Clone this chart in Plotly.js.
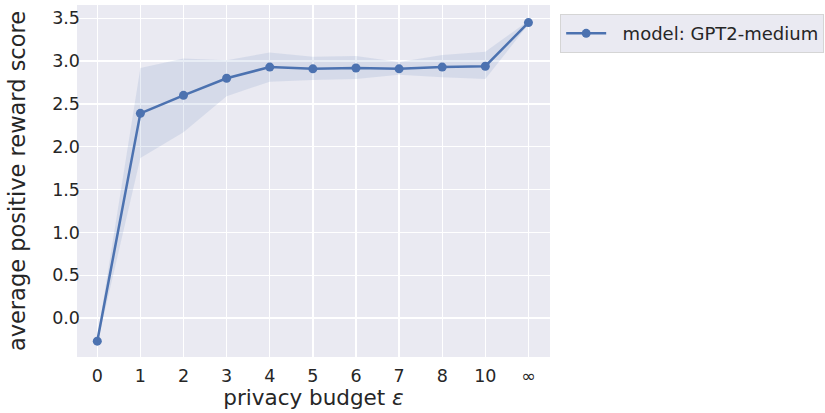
<!DOCTYPE html>
<html>
<head>
<meta charset="utf-8">
<script src="https://cdn.plot.ly/plotly-3.0.1.min.js"></script>
<style>html,body{margin:0;padding:0;background:#fff;}#chart{width:825px;height:413px;}</style>
</head>
<body>
<div id="chart"></div>
<script>
const categories = ["0","1","2","3","4","5","6","7","8","10","∞"];
const meanScore  = [-0.27, 2.39, 2.60, 2.80, 2.93, 2.91, 2.92, 2.91, 2.93, 2.94, 3.45];
const upperBand  = [-0.24, 2.92, 3.03, 3.01, 3.10, 3.05, 3.06, 2.99, 3.07, 3.11, 3.47];
const lowerBand  = [-0.30, 1.87, 2.17, 2.59, 2.76, 2.78, 2.79, 2.84, 2.81, 2.79, 3.43];
const seriesName = "model: GPT2-medium";

const blue = "#4c72b0";
const traces = [
  {x: categories, y: upperBand, mode: "lines", line: {width: 0, color: blue}, showlegend: false, hoverinfo: "skip"},
  {x: categories, y: lowerBand, mode: "lines", line: {width: 0, color: blue}, fill: "tonexty", fillcolor: "rgba(76,114,176,0.13)", showlegend: false, hoverinfo: "skip"},
  {x: categories, y: meanScore, mode: "lines+markers", name: "\u00a0\u00a0" + seriesName, line: {color: blue, width: 2.5}, marker: {color: blue, size: 9}}
];

const txt = "#262626";
const layout = {
  width: 825, height: 413,
  margin: {l: 77, r: 275, t: 5, b: 56},
  paper_bgcolor: "#ffffff",
  plot_bgcolor: "#eaeaf2",
  font: {family: "DejaVu Sans, sans-serif", color: txt, size: 17.5},
  xaxis: {
    type: "category", categoryorder: "array", categoryarray: categories,
    range: [-0.47, 10.5], automargin: false,
    showgrid: true, gridcolor: "#ffffff", gridwidth: 1.3,
    zeroline: false, showline: false, ticks: "",
    ticklabelstandoff: 6,
    tickfont: {size: 17.5, color: txt},
    title: {text: "privacy budget <i>ε</i>", font: {size: 21.5, color: txt}, standoff: 5}
  },
  yaxis: {
    range: [-0.455, 3.655], automargin: false,
    tickvals: [0, 0.5, 1, 1.5, 2, 2.5, 3, 3.5],
    ticktext: ["0.0","0.5","1.0","1.5","2.0","2.5","3.0","3.5"],
    showgrid: true, gridcolor: "#ffffff", gridwidth: 1.3,
    zeroline: false, showline: false, ticks: "",
    ticklabelstandoff: -4,
    tickfont: {size: 17.5, color: txt},
    title: {text: "average positive reward score", font: {size: 22.5, color: txt}, standoff: 20}
  },
  legend: {
    xref: "container", x: 0.679, xanchor: "left",
    y: 0.974, yanchor: "top",
    bgcolor: "#eaeaf2", bordercolor: "#d5d5d5", borderwidth: 1,
    itemwidth: 40,
    font: {size: 18, color: txt}
  },
  showlegend: true
};
Plotly.newPlot("chart", traces, layout, {displayModeBar: false, staticPlot: true});
</script>
</body>
</html>
